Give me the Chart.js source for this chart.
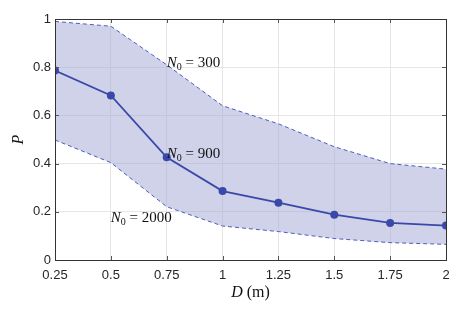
<!DOCTYPE html>
<html>
<head>
<meta charset="utf-8">
<script src="https://cdn.jsdelivr.net/npm/chart.js@4.4.1/dist/chart.umd.min.js"></script>
<style>
  html, body { margin: 0; padding: 0; background: #fff; }
  #wrap { width: 465px; height: 311px; }
</style>
</head>
<body>
<div id="wrap"><canvas id="chart"></canvas></div>
<script>
// distance D (m)
const distances = [0.25, 0.5, 0.75, 1, 1.25, 1.5, 1.75, 2];
// P for N0 = 300 (upper bound), 900 (mean), 2000 (lower bound)
const upperP = [0.99, 0.97, 0.81, 0.64, 0.565, 0.47, 0.40, 0.377];
const middleP = [0.786, 0.683, 0.426, 0.286, 0.238, 0.188, 0.154, 0.143];
const lowerP = [0.498, 0.404, 0.221, 0.141, 0.118, 0.089, 0.072, 0.065];
const xTicks = [0.25, 0.5, 0.75, 1, 1.25, 1.5, 1.75, 2];
const yTicks = [0, 0.2, 0.4, 0.6, 0.8, 1];
const curveLabels = [
	{ text: "300", x: 0.75, y: 0.82 },
	{ text: "900", x: 0.75, y: 0.445 },
	{ text: "2000", x: 0.5, y: 0.18 },
];

const lineColor = "#3a49a9";
const bandLine = "#4f5cbd";
const bandFill = "rgba(160, 166, 212, 0.5)";

function toXY(values) {
	return distances.map((d, i) => ({ x: d, y: values[i] }));
}

// box, inner ticks, axis titles and N0 labels, matlab style
const decorations = {
	id: "decorations",
	afterDatasetsDraw(chart) {
		const ctx = chart.ctx;
		const area = chart.chartArea;
		const xs = chart.scales.x;
		const ys = chart.scales.y;
		ctx.save();
		ctx.strokeStyle = "#555";
		ctx.lineWidth = 1;
		ctx.beginPath();
		xTicks.forEach(t => {
			const px = Math.round(xs.getPixelForValue(t)) + 0.5;
			ctx.moveTo(px, area.bottom); ctx.lineTo(px, area.bottom - 4);
			ctx.moveTo(px, area.top); ctx.lineTo(px, area.top + 4);
		});
		yTicks.forEach(t => {
			const py = Math.round(ys.getPixelForValue(t)) + 0.5;
			ctx.moveTo(area.left, py); ctx.lineTo(area.left + 4, py);
			ctx.moveTo(area.right, py); ctx.lineTo(area.right - 4, py);
		});
		ctx.stroke();
		ctx.strokeStyle = "#333";
		ctx.strokeRect(Math.round(area.left) + 0.5, Math.round(area.top) + 0.5,
			Math.round(area.right - area.left), Math.round(area.bottom - area.top));

		ctx.fillStyle = "#111";
		ctx.textBaseline = "alphabetic";
		ctx.textAlign = "left";
		curveLabels.forEach(l => {
			let px = xs.getPixelForValue(l.x);
			const py = ys.getPixelForValue(l.y) + 5;
			ctx.font = "italic 15px 'Liberation Serif'";
			ctx.fillText("N", px, py);
			px += ctx.measureText("N").width;
			ctx.font = "10px 'Liberation Serif'";
			ctx.fillText("0", px, py + 3);
			px += ctx.measureText("0").width;
			ctx.font = "15px 'Liberation Serif'";
			ctx.fillText(" = " + l.text, px, py);
		});

		// x title: D (m)
		ctx.font = "italic 16px 'Liberation Serif'";
		const wD = ctx.measureText("D").width;
		ctx.font = "16px 'Liberation Serif'";
		const wM = ctx.measureText(" (m)").width;
		let tx = (area.left + area.right) / 2 - (wD + wM) / 2;
		ctx.font = "italic 16px 'Liberation Serif'";
		ctx.fillText("D", tx, 297);
		ctx.font = "16px 'Liberation Serif'";
		ctx.fillText(" (m)", tx + wD, 297);

		// y title: P
		ctx.translate(23, (area.top + area.bottom) / 2);
		ctx.rotate(-Math.PI / 2);
		ctx.textAlign = "center";
		ctx.font = "italic 16px 'Liberation Serif'";
		ctx.fillText("P", 0, 0);
		ctx.restore();
	},
};

new Chart(document.getElementById("chart"), {
	type: "line",
	data: {
		datasets: [
			{
				label: "N0 = 2000",
				data: toXY(lowerP),
				borderColor: bandLine,
				borderWidth: 1,
				borderDash: [4, 3],
				pointRadius: 0,
				fill: false,
				order: 2,
			},
			{
				label: "N0 = 300",
				data: toXY(upperP),
				borderColor: bandLine,
				borderWidth: 1,
				borderDash: [4, 3],
				pointRadius: 0,
				backgroundColor: bandFill,
				fill: "-1",
				order: 1,
			},
			{
				label: "N0 = 900",
				data: toXY(middleP),
				borderColor: lineColor,
				backgroundColor: lineColor,
				borderWidth: 1.8,
				pointRadius: 4,
				pointBorderWidth: 0,
				fill: false,
				order: 0,
			},
		],
	},
	options: {
		responsive: true,
		maintainAspectRatio: false,
		animation: false,
		layout: { padding: { top: 19, right: 19, left: 0, bottom: 0 } },
		plugins: {
			legend: { display: false },
			tooltip: { enabled: false },
			filler: { drawTime: "beforeDatasetsDraw" },
		},
		scales: {
			x: {
				type: "linear",
				min: 0.25,
				max: 2,
				afterBuildTicks: scale => { scale.ticks = xTicks.map(v => ({ value: v })); },
				afterFit: scale => { scale.height = 51; },
				ticks: {
					color: "#262626",
					font: { family: "'Liberation Sans', Arial", size: 13 },
					padding: 8,
					maxRotation: 0,
					autoSkip: false,
					callback: v => String(v),
				},
				grid: { color: "#e6e6e6", tickLength: 0, drawTicks: false },
				border: { display: false },
			},
			y: {
				min: 0,
				max: 1,
				afterBuildTicks: scale => { scale.ticks = yTicks.map(v => ({ value: v })); },
				afterFit: scale => { scale.width = 55; },
				ticks: {
					color: "#262626",
					font: { family: "'Liberation Sans', Arial", size: 13 },
					padding: 4,
					callback: v => String(v),
				},
				grid: { color: "#e6e6e6", tickLength: 0, drawTicks: false },
				border: { display: false },
			},
		},
	},
	plugins: [decorations],
});
</script>
</body>
</html>
